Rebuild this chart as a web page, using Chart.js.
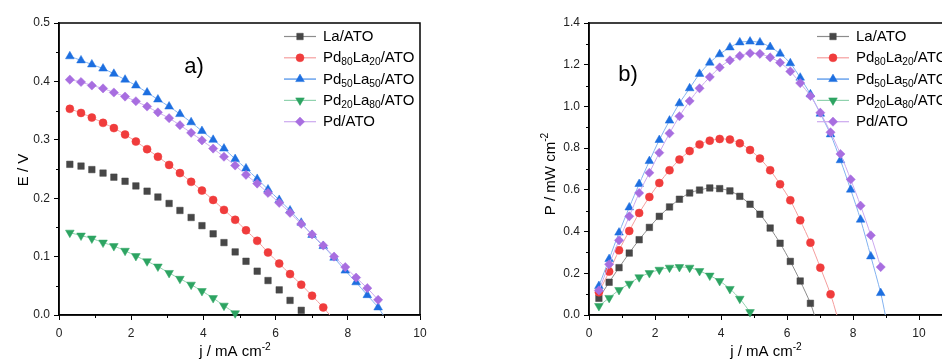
<!DOCTYPE html>
<html><head><meta charset="utf-8">
<script src="https://cdn.jsdelivr.net/npm/chart.js@4/dist/chart.umd.min.js"></script>
<style>
html,body{margin:0;padding:0;background:#fff;overflow:hidden;width:942px;height:361px;position:relative}
#wrapA{position:absolute;left:0;top:0;width:470px;height:361px}
#wrapB{position:absolute;left:470px;top:0;width:500px;height:361px}
</style></head><body>
<div id="wrapA"><canvas id="cA" width="470" height="361"></canvas></div>
<div id="wrapB"><canvas id="cB" width="500" height="361"></canvas></div>
<script>
// ---- data ----
const currentDensity = [0.30,0.61,0.91,1.22,1.52,1.83,2.13,2.44,2.74,3.05,3.35,3.66,3.96,4.27,4.57,4.88,5.18,5.49,5.79,6.10,6.40,6.71,7.01,7.32,7.62,7.93,8.23,8.54,8.84];
const seriesNames = ['La/ATO','Pd_{80}La_{20}/ATO','Pd_{50}La_{50}/ATO','Pd_{20}La_{80}/ATO','Pd/ATO'];

const potLa       = [0.258,0.255,0.249,0.243,0.236,0.229,0.221,0.212,0.202,0.191,0.179,0.167,0.153,0.139,0.124,0.108,0.092,0.075,0.059,0.043,0.025,0.008];
const potPd80La20 = [0.353,0.346,0.338,0.329,0.320,0.309,0.297,0.284,0.271,0.257,0.243,0.228,0.213,0.197,0.180,0.163,0.145,0.127,0.107,0.088,0.070,0.052,0.033,0.013];
const potPd50La50 = [0.443,0.436,0.429,0.422,0.413,0.403,0.393,0.381,0.369,0.357,0.344,0.330,0.315,0.300,0.285,0.267,0.251,0.233,0.215,0.197,0.179,0.158,0.137,0.118,0.098,0.076,0.056,0.034,0.013];
const potPd20La80 = [0.141,0.136,0.131,0.124,0.118,0.110,0.101,0.092,0.083,0.072,0.062,0.052,0.041,0.029,0.016,0.003];
const potPd       = [0.403,0.399,0.393,0.388,0.381,0.374,0.366,0.357,0.347,0.337,0.325,0.312,0.299,0.285,0.271,0.256,0.240,0.225,0.209,0.192,0.175,0.156,0.138,0.119,0.100,0.082,0.064,0.046,0.026];

const powLa       = [0.080,0.157,0.227,0.297,0.361,0.420,0.473,0.518,0.555,0.585,0.599,0.609,0.606,0.595,0.569,0.531,0.483,0.417,0.344,0.257,0.163,0.056];
const powPd80La20 = [0.109,0.208,0.310,0.403,0.489,0.566,0.633,0.694,0.745,0.786,0.818,0.836,0.844,0.841,0.823,0.791,0.750,0.694,0.627,0.550,0.454,0.347,0.227,0.099];
const powPd50La50 = [0.139,0.268,0.395,0.516,0.628,0.738,0.839,0.932,1.015,1.087,1.156,1.210,1.250,1.283,1.307,1.311,1.307,1.285,1.253,1.207,1.138,1.058,0.965,0.866,0.742,0.601,0.457,0.281,0.105];
const powPd20La80 = [0.043,0.082,0.120,0.150,0.181,0.201,0.217,0.227,0.230,0.227,0.211,0.189,0.163,0.125,0.078,0.014];
const powPd       = [0.118,0.243,0.358,0.473,0.585,0.682,0.778,0.871,0.953,1.026,1.087,1.141,1.187,1.221,1.242,1.255,1.252,1.235,1.210,1.168,1.112,1.050,0.970,0.876,0.772,0.650,0.524,0.382,0.230];

// x (j) where each fitted line meets zero (null = line stops at last point)
const potLineEnd = [null, 7.50, 8.98, null, null];
const powLineEnd = [6.83, 7.51, 8.98, null, null];
const potShowLine = [false, true, true, true, true];
const powShowLine = [true, true, true, true, true];

const xMajorTicks = [0,2,4,6,8,10];
const xMinorTicks = [1,3,5,7,9];
const potMajorTicks = [0,0.1,0.2,0.3,0.4,0.5];
const potMinorTicks = [0.05,0.15,0.25,0.35,0.45];
const powMajorTicks = [0,0.2,0.4,0.6,0.8,1.0,1.2,1.4];
const powMinorTicks = [0.1,0.3,0.5,0.7,0.9,1.1,1.3];

// ---- style ----
const FONT = "'Liberation Sans', Arial, Helvetica, sans-serif";
Chart.defaults.font.family = FONT;
const styles = [
  {marker:'#474747', line:'#8c8c8c', shape:'rect', rot:0, r:4.6},
  {marker:'#f03c3c', line:'#f59d9d', shape:'circle', rot:0, r:4.0},
  {marker:'#1d6fe0', line:'#82b2f0', shape:'triangle', rot:0, r:5.0},
  {marker:'#2da462', line:'#90d2ae', shape:'triangle', rot:180, r:5.0},
  {marker:'#a86ee0', line:'#cba9ef', shape:'rectRot', rot:0, r:4.6}
];

function makeSets(valsList, ends, showFlags){
  return seriesNames.map((name,i)=>{
    const st = styles[i];
    const vals = valsList[i];
    const n = vals.length;
    const pts = vals.map((v,k)=>({x: currentDensity[k], y: v}));
    if (ends[i] != null) pts.push({x: ends[i], y: 0});
    return {
      label: name, data: pts, order: -i,
      borderColor: st.line, backgroundColor: st.marker,
      pointBackgroundColor: st.marker, pointBorderColor: st.marker, pointBorderWidth: 0.5,
      pointStyle: st.shape, pointRotation: st.rot,
      pointRadius: c => (c.dataIndex < n ? st.r : 0), pointHoverRadius: 0,
      borderWidth: 1, showLine: showFlags[i], tension: 0.3, clip: false
    };
  });
}

// ---- rich text helpers ----
function parseRich(s){
  const parts = s.split(/(_\{[^}]*\}|\^\{[^}]*\})/).filter(p=>p.length);
  return parts.map(p=>{
    if (p.startsWith('_{')) return {t:p.slice(2,-1), m:'sub'};
    if (p.startsWith('^{')) return {t:p.slice(2,-1), m:'sup'};
    return {t:p, m:''};
  });
}
function richWidth(ctx, segs, size){
  let w=0;
  segs.forEach(s=>{ctx.font = (s.m? size*0.68 : size)+'px '+FONT; w+=ctx.measureText(s.t).width;});
  return w;
}
function drawRich(ctx, s, x, y, size, align){
  const segs = parseRich(s);
  let cx = x;
  if (align==='center') cx = x - richWidth(ctx, segs, size)/2;
  ctx.textAlign='left';
  segs.forEach(sg=>{
    const fs = sg.m? size*0.68 : size;
    ctx.font = fs+'px '+FONT;
    const dy = sg.m==='sub' ? size*0.28 : (sg.m==='sup' ? -size*0.42 : 0);
    ctx.fillText(sg.t, cx, y+dy);
    cx += ctx.measureText(sg.t).width;
  });
}
function drawMarker(ctx, st, x, y){
  if (Chart.helpers && Chart.helpers.drawPoint){
    ctx.fillStyle = st.marker; ctx.strokeStyle = st.marker; ctx.lineWidth=0.5;
    Chart.helpers.drawPoint(ctx, {pointStyle: st.shape, rotation: st.rot, radius: st.r, borderWidth:0.5}, x, y);
    return;
  }
}

const decor = {
  id:'decor',
  beforeDatasetsDraw(chart, args, o){
    const ctx = chart.ctx, ca = chart.chartArea;
    const xs = chart.scales.x, ys = chart.scales.y;
    ctx.save();
    ctx.strokeStyle='#000'; ctx.lineWidth=1;
    o.xMinor.forEach(v=>{const p=Math.round(xs.getPixelForValue(v))+0.5; ctx.beginPath(); ctx.moveTo(p,ca.bottom); ctx.lineTo(p,ca.bottom+3); ctx.stroke();});
    o.yMinor.forEach(v=>{const p=Math.round(ys.getPixelForValue(v))+0.5; ctx.beginPath(); ctx.moveTo(ca.left-3,p); ctx.lineTo(ca.left,p); ctx.stroke();});
    ctx.lineWidth=1.5;
    ctx.strokeRect(ca.left, ca.top, ca.right-ca.left, ca.bottom-ca.top);
    ctx.restore();
  },
  afterDraw(chart, args, o){
    const ctx = chart.ctx, ca = chart.chartArea;
    ctx.save();
    ctx.fillStyle='#000';
    ctx.textBaseline='alphabetic';
    // x title
    drawRich(ctx, o.xTitle, o.xTitleX, 356, 15, 'center');
    // y title
    ctx.save();
    ctx.translate(o.yTitleX, o.yTitleY);
    ctx.rotate(-Math.PI/2);
    drawRich(ctx, o.yTitle, 0, 0, 15, 'center');
    ctx.restore();
    // panel label
    ctx.font = '22px '+FONT; ctx.textAlign='center'; ctx.textBaseline='middle';
    ctx.fillText(o.panel, ca.left+o.panelDX, ca.top+o.panelDY);
    // legend
    const lx = ca.left + o.legendDX;
    chart.data.datasets.forEach((ds,i)=>{
      const st = styles[i];
      const y = ca.top + 13.5 + 21.3*i;
      ctx.strokeStyle = st.line; ctx.lineWidth = (i===2?1.8:1.2);
      ctx.beginPath(); ctx.moveTo(lx, y); ctx.lineTo(lx+32, y); ctx.stroke();
      drawMarker(ctx, st, lx+16, y);
      ctx.fillStyle='#000'; ctx.textBaseline='middle';
      drawRich(ctx, ds.label, lx+39, y+0.5, 15, 'left');
    });
    ctx.restore();
  }
};

function makeChart(id, sets, yMax, yMajor, yMinor, xMax, yAxisW, padRight, decorOpts){
  return new Chart(document.getElementById(id), {
    type:'line',
    data:{datasets: sets},
    options:{
      responsive:false, animation:false, devicePixelRatio:1,
      layout:{padding:{left:0, top:23, right:padRight, bottom:0}},
      plugins:{legend:{display:false}, tooltip:{enabled:false}, decor: decorOpts},
      scales:{
        x:{type:'linear', min:0, max:xMax,
           afterBuildTicks: s=>{ s.ticks = xMajorTicks.map(v=>({value:v})); },
           afterFit: s=>{ s.height = 46; },
           ticks:{autoSkip:false, maxRotation:0, padding:6, color:'#222', font:{size:12}, callback: v=>String(v)},
           grid:{drawOnChartArea:false, drawTicks:true, tickLength:5, color:'#000', lineWidth:1},
           border:{display:true, color:'#000', width:1.5}},
        y:{type:'linear', min:0, max:yMax,
           afterBuildTicks: s=>{ s.ticks = yMajor.map(v=>({value:v})); },
           afterFit: s=>{ s.width = yAxisW; },
           ticks:{autoSkip:false, padding:4, color:'#222', font:{size:12}, callback: v=>Number(v).toFixed(1)},
           grid:{drawOnChartArea:false, drawTicks:true, tickLength:5, color:'#000', lineWidth:1},
           border:{display:true, color:'#000', width:1.5}}
      }
    },
    plugins:[decor]
  });
}

const setsA = makeSets([potLa,potPd80La20,potPd50La50,potPd20La80,potPd], potLineEnd, potShowLine);
const setsB = makeSets([powLa,powPd80La20,powPd50La50,powPd20La80,powPd], powLineEnd, powShowLine);

makeChart('cA', setsA, 0.5, potMajorTicks, potMinorTicks, 10, 59, 50,
  {xMinor:xMinorTicks, yMinor:potMinorTicks, xTitle:'j / mA cm^{-2}', xTitleX:235,
   yTitle:'E / V', yTitleX:27.5, yTitleY:170, panel:'a)', panelDX:135, panelDY:43.5, legendDX:225});
makeChart('cB', setsB, 1.4, powMajorTicks, powMinorTicks, 11, 119, 18,
  {xMinor:xMinorTicks, yMinor:powMinorTicks, xTitle:'j / mA cm^{-2}', xTitleX:296,
   yTitle:'P / mW cm^{-2}', yTitleX:84.5, yTitleY:174, panel:'b)', panelDX:39, panelDY:51.5, legendDX:228});
</script>
</body></html>
